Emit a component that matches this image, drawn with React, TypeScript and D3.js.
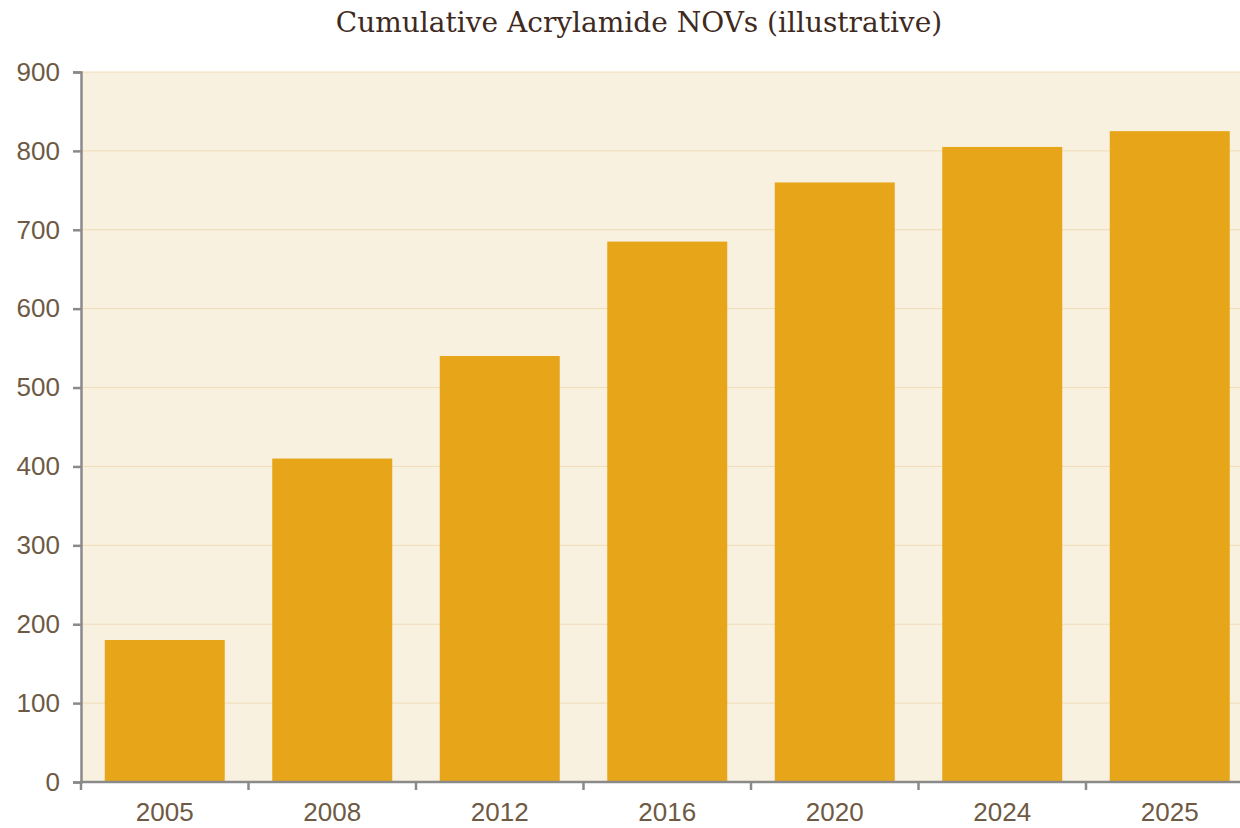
import React, { useEffect, useRef } from 'react';
import * as d3 from 'd3';

const years = ['2005', '2008', '2012', '2016', '2020', '2024', '2025'];
const novCounts = [180, 410, 540, 685, 760, 805, 825];
const yTicks = [0, 100, 200, 300, 400, 500, 600, 700, 800, 900];
const chartTitle = 'Cumulative Acrylamide NOVs (illustrative)';

const W = 1240;
const H = 828;

export default function App() {
  const svgRef = useRef<SVGSVGElement>(null);

  useEffect(() => {
    const svg = d3.select(svgRef.current);
    svg.selectAll('*').remove();

    const margin = { top: 72, left: 81, bottom: 46 };
    const plotRight = 81 + 7 * 167.5; // goes past the window edge, like the original
    const plotBottom = H - margin.bottom;

    const x = d3.scaleBand()
      .domain(years)
      .range([margin.left, plotRight])
      .paddingInner(0.2836)
      .paddingOuter(0.1418);

    const y = d3.scaleLinear()
      .domain([0, 900])
      .range([plotBottom, margin.top]);

    // plot background
    svg.append('rect')
      .attr('x', margin.left)
      .attr('y', margin.top)
      .attr('width', plotRight - margin.left)
      .attr('height', plotBottom - margin.top)
      .attr('fill', '#f9f1e0');

    // gridlines
    svg.append('g')
      .selectAll('line')
      .data(yTicks)
      .enter().append('line')
      .attr('x1', margin.left)
      .attr('x2', plotRight)
      .attr('y1', d => y(d))
      .attr('y2', d => y(d))
      .attr('stroke', '#efdcb6')
      .attr('stroke-width', 1);

    // bars
    svg.append('g')
      .selectAll('rect')
      .data(years)
      .enter().append('rect')
      .attr('x', d => x(d)!)
      .attr('y', (d, i) => y(novCounts[i]))
      .attr('width', x.bandwidth())
      .attr('height', (d, i) => plotBottom - y(novCounts[i]))
      .attr('fill', '#e7a519');

    // y axis
    const yAxis = svg.append('g')
      .attr('transform', `translate(${margin.left},0)`)
      .call(d3.axisLeft(y).tickValues(yTicks).tickSize(8).tickPadding(13));
    yAxis.select('.domain').attr('stroke', '#8a8a8a').attr('stroke-width', 2.5);
    yAxis.selectAll('.tick line').attr('stroke', '#8a8a8a').attr('stroke-width', 2.5);
    yAxis.selectAll('text')
      .attr('fill', '#6e5a44')
      .style('font-family', '"Liberation Sans", Arial, sans-serif')
      .style('font-size', '26px');

    // x axis: ticks sit between categories
    const xg = svg.append('g').attr('transform', `translate(0,${plotBottom})`);
    xg.append('line')
      .attr('x1', margin.left - 1)
      .attr('x2', plotRight)
      .attr('stroke', '#8a8a8a')
      .attr('stroke-width', 2.5);
    xg.selectAll('.sep')
      .data(years)
      .enter().append('line')
      .attr('class', 'sep')
      .attr('x1', d => x(d)! - x.step() * x.paddingInner() / 2)
      .attr('x2', d => x(d)! - x.step() * x.paddingInner() / 2)
      .attr('y1', 0)
      .attr('y2', 8)
      .attr('stroke', '#8a8a8a')
      .attr('stroke-width', 2.5);
    xg.selectAll('.lbl')
      .data(years)
      .enter().append('text')
      .attr('class', 'lbl')
      .attr('x', d => x(d)! + x.bandwidth() / 2)
      .attr('y', 39)
      .attr('text-anchor', 'middle')
      .attr('fill', '#6e5a44')
      .style('font-family', '"Liberation Sans", Arial, sans-serif')
      .style('font-size', '26px')
      .text(d => d);

    // title
    svg.append('text')
      .attr('x', 639)
      .attr('y', 32)
      .attr('text-anchor', 'middle')
      .attr('fill', '#3e2a1e')
      .style('font-family', '"DejaVu Serif", Georgia, serif')
      .style('font-size', '28px')
      .text(chartTitle);
  }, []);

  return (
    <div style={{ position: 'absolute', left: 0, top: 0, width: W, height: H, overflow: 'hidden' }}>
      <svg ref={svgRef} width={W} height={H} style={{ display: 'block', background: '#fff' }}></svg>
    </div>
  );
}
